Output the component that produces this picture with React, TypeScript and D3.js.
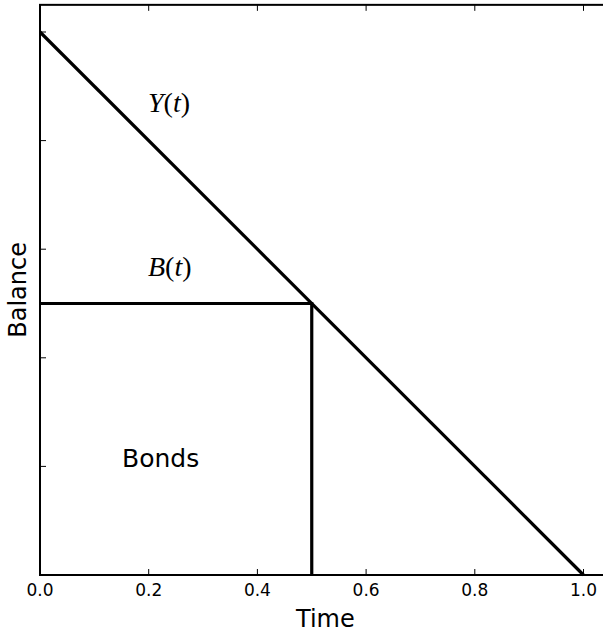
import * as d3 from 'd3';
import React, { useEffect, useRef } from 'react';

// time axis and balance ticks
const timeTicks = [0, 0.2, 0.4, 0.6, 0.8, 1.0];
const balanceTicks = [0, 0.2, 0.4, 0.6, 0.8, 1.0];

// total balance Y(t) falls linearly, bonds B(t) held until the switch time
const totalTime = [0, 1];
const totalBalance = [1, 0];
const bondTime = [0, 0.5, 0.5];
const bondBalance = [0.5, 0.5, 0];

const App: React.FC = () => {
  const svgRef = useRef<SVGSVGElement | null>(null);

  useEffect(() => {
    if (!svgRef.current) return;
    const W = 603;
    const H = 633;
    const svg = d3.select(svgRef.current);
    svg.selectAll('*').remove();
    svg.attr('width', W).attr('height', H);

    const x = d3.scaleLinear().domain([0, 1]).range([40, 583.5]);
    const y = d3.scaleLinear().domain([0, 1]).range([575, 32]);
    const top = y(1.05);
    const right = x(1.05);

    svg.append('rect').attr('width', W).attr('height', H).attr('fill', 'white');

    // curves
    const line = d3.line<[number, number]>().x((d) => x(d[0])).y((d) => y(d[1]));
    svg
      .append('path')
      .attr('d', line(totalTime.map((t, i) => [t, totalBalance[i]]))!)
      .attr('fill', 'none')
      .attr('stroke', 'black')
      .attr('stroke-width', 3.2);
    svg
      .append('path')
      .attr('d', line(bondTime.map((t, i) => [t, bondBalance[i]]))!)
      .attr('fill', 'none')
      .attr('stroke', 'black')
      .attr('stroke-width', 3.2);

    // ticks (inside, on all sides)
    const tk = svg.append('g').attr('stroke', 'black').attr('stroke-width', 1);
    timeTicks.forEach((t) => {
      tk.append('line').attr('x1', x(t)).attr('x2', x(t)).attr('y1', y(0)).attr('y2', y(0) - 6);
      tk.append('line').attr('x1', x(t)).attr('x2', x(t)).attr('y1', top).attr('y2', top + 6);
    });
    balanceTicks.forEach((b) => {
      tk.append('line').attr('x1', x(0)).attr('x2', x(0) + 6).attr('y1', y(b)).attr('y2', y(b));
    });

    // frame
    svg
      .append('rect')
      .attr('x', x(0))
      .attr('y', top)
      .attr('width', right - x(0))
      .attr('height', y(0) - top)
      .attr('fill', 'none')
      .attr('stroke', 'black')
      .attr('stroke-width', 2);

    // tick labels
    svg
      .append('g')
      .selectAll('text')
      .data(timeTicks)
      .enter()
      .append('text')
      .attr('x', (d) => x(d))
      .attr('y', 596)
      .attr('text-anchor', 'middle')
      .attr('font-family', 'DejaVu Sans')
      .attr('font-size', 17)
      .text((d) => d.toFixed(1));

    // axis titles
    svg
      .append('text')
      .attr('x', (x(0) + right) / 2)
      .attr('y', 627)
      .attr('text-anchor', 'middle')
      .attr('font-family', 'DejaVu Sans')
      .attr('font-size', 24)
      .text('Time');
    svg
      .append('text')
      .attr('transform', `translate(26, ${(top + y(0)) / 2}) rotate(-90)`)
      .attr('text-anchor', 'middle')
      .attr('font-family', 'DejaVu Sans')
      .attr('font-size', 24)
      .text('Balance');

    // annotations
    const mathLabel = (sym: string, px: number, py: number) => {
      const t = svg
        .append('text')
        .attr('x', px)
        .attr('y', py)
        .attr('font-family', 'Liberation Serif')
        .attr('font-size', 28);
      t.append('tspan').attr('font-style', 'italic').text(sym);
      t.append('tspan').text('(');
      t.append('tspan').attr('font-style', 'italic').text('t');
      t.append('tspan').text(')');
    };
    mathLabel('Y', 148, 112);
    mathLabel('B', 148, 276);

    svg
      .append('text')
      .attr('x', 122)
      .attr('y', 467)
      .attr('font-family', 'DejaVu Sans')
      .attr('font-size', 25)
      .text('Bonds');
  }, []);

  return <svg ref={svgRef} style={{ position: 'absolute', left: 0, top: 0, display: 'block' }} />;
};

export default App;
